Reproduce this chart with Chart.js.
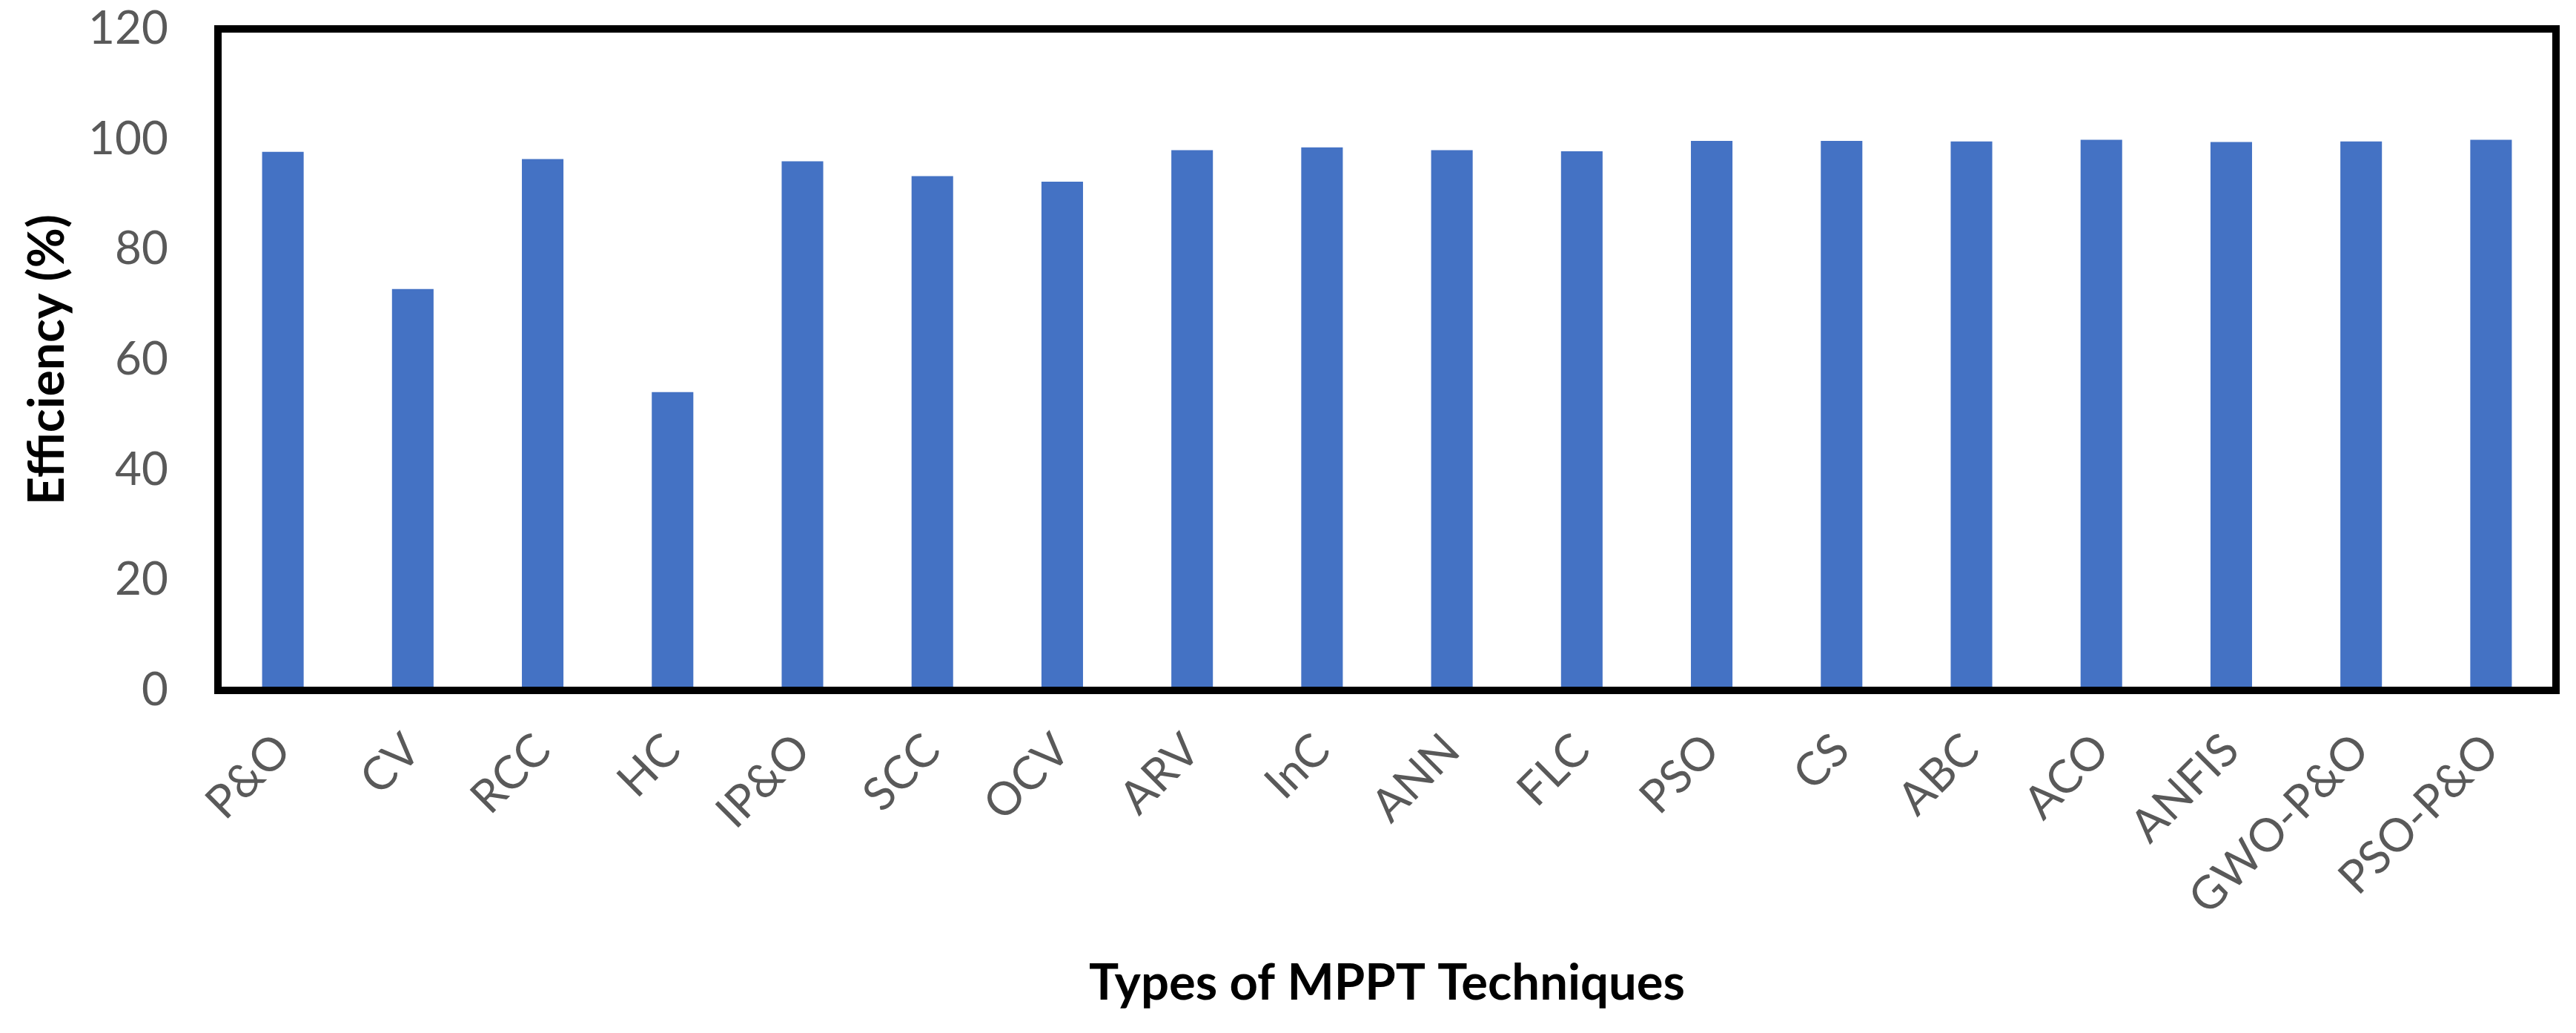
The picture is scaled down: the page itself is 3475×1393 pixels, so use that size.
<!DOCTYPE html>
<html lang="en">
<head>
    <meta charset="UTF-8">
    <title>Efficiency of MPPT Techniques</title>
    <script src="https://cdn.jsdelivr.net/npm/chart.js@4.4.1/dist/chart.umd.min.js"></script>
    <style>
        body {
            margin: 0;
            background-color: #ffffff;
        }
        #chart-container {
            width: 3475px;
            height: 1393px;
        }
    </style>
</head>
<body>
    <div id="chart-container">
        <canvas id="mpptChart" width="3475" height="1393"></canvas>
    </div>
    <script>
        const techniques = ['P&O', 'CV', 'RCC', 'HC', 'IP&O', 'SCC', 'OCV', 'ARV', 'InC',
            'ANN', 'FLC', 'PSO', 'CS', 'ABC', 'ACO', 'ANFIS', 'GWO-P&O', 'PSO-P&O'];
        const efficiency = [97.7, 72.8, 96.4, 54.1, 96.0, 93.3, 92.3, 98.0, 98.5,
            98.0, 97.8, 99.7, 99.7, 99.6, 99.9, 99.5, 99.6, 99.9];
        const yMin = 0;
        const yMax = 120;
        const yStep = 20;

        const tickColor = '#595959';
        const fontFamily = 'Lato, "Open Sans", sans-serif';

        // black frame round the plot area, like the Excel original
        const plotFrame = {
            id: 'plotFrame',
            afterDatasetsDraw(chart) {
                const { ctx, chartArea } = chart;
                ctx.save();
                ctx.strokeStyle = '#000000';
                ctx.lineWidth = 10;
                ctx.strokeRect(chartArea.left, chartArea.top,
                    chartArea.right - chartArea.left, chartArea.bottom - chartArea.top);
                ctx.restore();
            }
        };

        const ctx = document.getElementById('mpptChart').getContext('2d');
        new Chart(ctx, {
            type: 'bar',
            data: {
                labels: techniques,
                datasets: [{
                    label: 'Efficiency (%)',
                    data: efficiency,
                    backgroundColor: '#4472C4',
                    borderWidth: 0,
                    barPercentage: 0.32,
                    categoryPercentage: 1.0
                }]
            },
            options: {
                responsive: false,
                animation: false,
                devicePixelRatio: 1,
                layout: {
                    padding: { top: 39, right: 27, bottom: 0, left: 0 }
                },
                plugins: {
                    legend: { display: false },
                    tooltip: { enabled: false }
                },
                scales: {
                    x: {
                        grid: { display: false, drawTicks: false },
                        border: { display: false },
                        ticks: {
                            color: tickColor,
                            font: { family: fontFamily, size: 62 },
                            minRotation: 45,
                            maxRotation: 45,
                            autoSkip: false,
                            padding: 44
                        },
                        title: {
                            display: true,
                            text: 'Types of MPPT Techniques',
                            color: '#000000',
                            font: { family: fontFamily, size: 67, weight: 'bold' },
                            padding: { top: 0, bottom: 26 }
                        },
                        afterFit(scale) {
                            scale.height = 1393 - 931;
                        }
                    },
                    y: {
                        min: yMin,
                        max: yMax,
                        grid: { display: false, drawTicks: false },
                        border: { display: false },
                        ticks: {
                            stepSize: yStep,
                            color: tickColor,
                            font: { family: fontFamily, size: 62 },
                            padding: 67
                        },
                        title: {
                            display: true,
                            text: 'Efficiency (%)',
                            color: '#000000',
                            font: { family: fontFamily, size: 66, weight: 'bold' },
                            padding: { top: 25, bottom: 0 }
                        },
                        afterFit(scale) {
                            scale.width = 294;
                            // tick padding is meant sideways only
                            scale.paddingTop = 0;
                            scale.paddingBottom = 0;
                        }
                    }
                }
            },
            plugins: [plotFrame]
        });
    </script>
</body>
</html>
